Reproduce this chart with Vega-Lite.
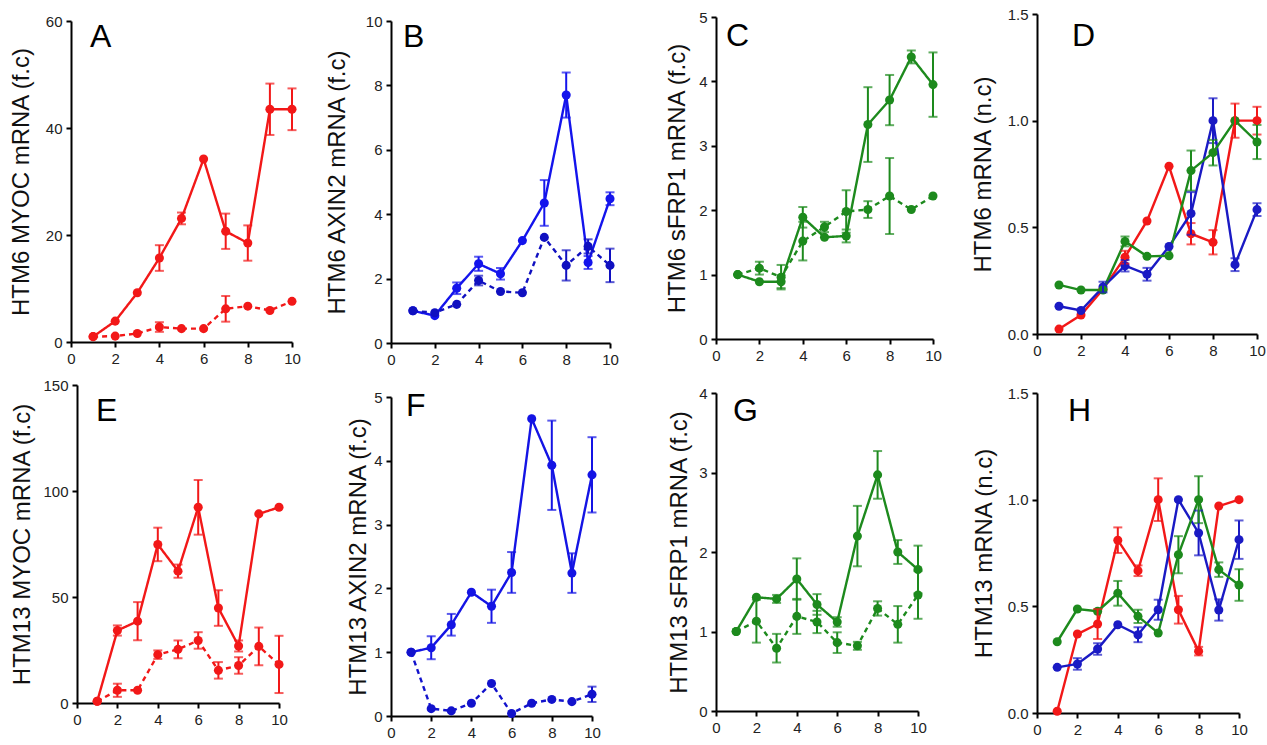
{
"$schema": "https://vega.github.io/schema/vega-lite/v6.json",
"padding": {"left": 9, "top": 7, "right": 0, "bottom": 0},
"background": "white",
"datasets": {"d": [
{"p":"A","s":"s1","x":1,"y":1.0},{"p":"A","s":"s1","x":2,"y":3.9},{"p":"A","s":"s1","x":3,"y":9.2},{"p":"A","s":"s1","x":4,"y":15.7,"e":2.4},{"p":"A","s":"s1","x":5,"y":23.1,"e":1.1},{"p":"A","s":"s1","x":6,"y":34.2},{"p":"A","s":"s1","x":7,"y":20.7,"e":3.3},{"p":"A","s":"s1","x":8,"y":18.5,"e":3.3},{"p":"A","s":"s1","x":9,"y":43.5,"e":4.8},{"p":"A","s":"s1","x":10,"y":43.5,"e":3.9},
{"p":"A","s":"s2","x":1,"y":1.0},{"p":"A","s":"s2","x":2,"y":1.1},{"p":"A","s":"s2","x":3,"y":1.6},{"p":"A","s":"s2","x":4,"y":2.8,"e":0.9},{"p":"A","s":"s2","x":5,"y":2.5},{"p":"A","s":"s2","x":6,"y":2.5},{"p":"A","s":"s2","x":7,"y":6.2,"e":2.4},{"p":"A","s":"s2","x":8,"y":6.7},{"p":"A","s":"s2","x":9,"y":5.9},{"p":"A","s":"s2","x":10,"y":7.6},
{"p":"B","s":"s1","x":1,"y":1.0},{"p":"B","s":"s1","x":2,"y":0.85},{"p":"B","s":"s1","x":3,"y":1.7,"e":0.18},{"p":"B","s":"s1","x":4,"y":2.46,"e":0.22},{"p":"B","s":"s1","x":5,"y":2.15,"e":0.18},{"p":"B","s":"s1","x":6,"y":3.18},{"p":"B","s":"s1","x":7,"y":4.35,"e":0.71},{"p":"B","s":"s1","x":8,"y":7.7,"e":0.7},{"p":"B","s":"s1","x":9,"y":2.5,"e":0.2},{"p":"B","s":"s1","x":10,"y":4.48,"e":0.2},
{"p":"B","s":"s2","x":1,"y":1.0},{"p":"B","s":"s2","x":2,"y":0.94},{"p":"B","s":"s2","x":3,"y":1.2},{"p":"B","s":"s2","x":4,"y":1.94,"e":0.15},{"p":"B","s":"s2","x":5,"y":1.6},{"p":"B","s":"s2","x":6,"y":1.56},{"p":"B","s":"s2","x":7,"y":3.28},{"p":"B","s":"s2","x":8,"y":2.41,"e":0.47},{"p":"B","s":"s2","x":9,"y":3.0,"e":0.22},{"p":"B","s":"s2","x":10,"y":2.41,"e":0.52},
{"p":"C","s":"s1","x":1,"y":1.0},{"p":"C","s":"s1","x":2,"y":0.89},{"p":"C","s":"s1","x":3,"y":0.89,"e":0.1},{"p":"C","s":"s1","x":4,"y":1.89,"e":0.16},{"p":"C","s":"s1","x":5,"y":1.58},{"p":"C","s":"s1","x":6,"y":1.6,"e":0.1},{"p":"C","s":"s1","x":7,"y":3.33,"e":0.58},{"p":"C","s":"s1","x":8,"y":3.71,"e":0.39},{"p":"C","s":"s1","x":9,"y":4.38,"e":0.1},{"p":"C","s":"s1","x":10,"y":3.95,"e":0.5},
{"p":"C","s":"s2","x":1,"y":1.0},{"p":"C","s":"s2","x":2,"y":1.1,"e":0.1},{"p":"C","s":"s2","x":3,"y":0.96,"e":0.19},{"p":"C","s":"s2","x":4,"y":1.52,"e":0.3},{"p":"C","s":"s2","x":5,"y":1.74,"e":0.08},{"p":"C","s":"s2","x":6,"y":1.98,"e":0.33},{"p":"C","s":"s2","x":7,"y":2.01,"e":0.13},{"p":"C","s":"s2","x":8,"y":2.22,"e":0.59},{"p":"C","s":"s2","x":9,"y":2.01},{"p":"C","s":"s2","x":10,"y":2.22},
{"p":"D","s":"MYOC","x":1,"y":0.023},{"p":"D","s":"MYOC","x":2,"y":0.089},{"p":"D","s":"MYOC","x":3,"y":0.21},{"p":"D","s":"MYOC","x":4,"y":0.36,"e":0.03},{"p":"D","s":"MYOC","x":5,"y":0.53},{"p":"D","s":"MYOC","x":6,"y":0.786},{"p":"D","s":"MYOC","x":7,"y":0.47,"e":0.05},{"p":"D","s":"MYOC","x":8,"y":0.43,"e":0.057},{"p":"D","s":"MYOC","x":9,"y":1.0,"e":0.08},{"p":"D","s":"MYOC","x":10,"y":1.0,"e":0.065},
{"p":"D","s":"AXIN2","x":1,"y":0.13},{"p":"D","s":"AXIN2","x":2,"y":0.11},{"p":"D","s":"AXIN2","x":3,"y":0.22,"e":0.025},{"p":"D","s":"AXIN2","x":4,"y":0.32,"e":0.027},{"p":"D","s":"AXIN2","x":5,"y":0.28,"e":0.03},{"p":"D","s":"AXIN2","x":6,"y":0.41},{"p":"D","s":"AXIN2","x":7,"y":0.565,"e":0.1},{"p":"D","s":"AXIN2","x":8,"y":1.0,"e":0.105},{"p":"D","s":"AXIN2","x":9,"y":0.325,"e":0.03},{"p":"D","s":"AXIN2","x":10,"y":0.583,"e":0.03},
{"p":"D","s":"sFRP1","x":1,"y":0.23},{"p":"D","s":"sFRP1","x":2,"y":0.206},{"p":"D","s":"sFRP1","x":3,"y":0.206},{"p":"D","s":"sFRP1","x":4,"y":0.434,"e":0.023},{"p":"D","s":"sFRP1","x":5,"y":0.364},{"p":"D","s":"sFRP1","x":6,"y":0.367},{"p":"D","s":"sFRP1","x":7,"y":0.766,"e":0.094},{"p":"D","s":"sFRP1","x":8,"y":0.85,"e":0.06},{"p":"D","s":"sFRP1","x":9,"y":1.0},{"p":"D","s":"sFRP1","x":10,"y":0.9,"e":0.08},
{"p":"E","s":"s1","x":1,"y":0.8},{"p":"E","s":"s1","x":2,"y":34.2,"e":2.4},{"p":"E","s":"s1","x":3,"y":38.6,"e":9},{"p":"E","s":"s1","x":4,"y":74.8,"e":7.9},{"p":"E","s":"s1","x":5,"y":62.2,"e":3.1},{"p":"E","s":"s1","x":6,"y":92.3,"e":12.9},{"p":"E","s":"s1","x":7,"y":44.8,"e":8.4},{"p":"E","s":"s1","x":8,"y":26.9,"e":2.6},{"p":"E","s":"s1","x":9,"y":89.2},{"p":"E","s":"s1","x":10,"y":92.3},
{"p":"E","s":"s2","x":1,"y":0.8},{"p":"E","s":"s2","x":2,"y":6.0,"e":3.1},{"p":"E","s":"s2","x":3,"y":6.0},{"p":"E","s":"s2","x":4,"y":22.8,"e":2},{"p":"E","s":"s2","x":5,"y":25.3,"e":4.2},{"p":"E","s":"s2","x":6,"y":29.5,"e":3.9},{"p":"E","s":"s2","x":7,"y":15.4,"e":3.9},{"p":"E","s":"s2","x":8,"y":17.7,"e":3.9},{"p":"E","s":"s2","x":9,"y":26.7,"e":8.9},{"p":"E","s":"s2","x":10,"y":18.2,"e":13.5},
{"p":"F","s":"s1","x":1,"y":1.0},{"p":"F","s":"s1","x":2,"y":1.07,"e":0.18},{"p":"F","s":"s1","x":3,"y":1.43,"e":0.17},{"p":"F","s":"s1","x":4,"y":1.94},{"p":"F","s":"s1","x":5,"y":1.72,"e":0.26},{"p":"F","s":"s1","x":6,"y":2.25,"e":0.32},{"p":"F","s":"s1","x":7,"y":4.66},{"p":"F","s":"s1","x":8,"y":3.93,"e":0.7},{"p":"F","s":"s1","x":9,"y":2.24,"e":0.31},{"p":"F","s":"s1","x":10,"y":3.78,"e":0.59},
{"p":"F","s":"s2","x":1,"y":1.0},{"p":"F","s":"s2","x":2,"y":0.115},{"p":"F","s":"s2","x":3,"y":0.08},{"p":"F","s":"s2","x":4,"y":0.2},{"p":"F","s":"s2","x":5,"y":0.51},{"p":"F","s":"s2","x":6,"y":0.04},{"p":"F","s":"s2","x":7,"y":0.2},{"p":"F","s":"s2","x":8,"y":0.26},{"p":"F","s":"s2","x":9,"y":0.225},{"p":"F","s":"s2","x":10,"y":0.34,"e":0.12},
{"p":"G","s":"s1","x":1,"y":1.0},{"p":"G","s":"s1","x":2,"y":1.43},{"p":"G","s":"s1","x":3,"y":1.41,"e":0.05},{"p":"G","s":"s1","x":4,"y":1.66,"e":0.26},{"p":"G","s":"s1","x":5,"y":1.34,"e":0.13},{"p":"G","s":"s1","x":6,"y":1.12,"e":0.06},{"p":"G","s":"s1","x":7,"y":2.2,"e":0.38},{"p":"G","s":"s1","x":8,"y":2.97,"e":0.3},{"p":"G","s":"s1","x":9,"y":2.0,"e":0.15},{"p":"G","s":"s1","x":10,"y":1.78,"e":0.3},
{"p":"G","s":"s2","x":1,"y":1.0},{"p":"G","s":"s2","x":2,"y":1.13,"e":0.27},{"p":"G","s":"s2","x":3,"y":0.79,"e":0.18},{"p":"G","s":"s2","x":4,"y":1.19,"e":0.22},{"p":"G","s":"s2","x":5,"y":1.12,"e":0.14},{"p":"G","s":"s2","x":6,"y":0.86,"e":0.13},{"p":"G","s":"s2","x":7,"y":0.82,"e":0.05},{"p":"G","s":"s2","x":8,"y":1.29,"e":0.09},{"p":"G","s":"s2","x":9,"y":1.09,"e":0.23},{"p":"G","s":"s2","x":10,"y":1.46,"e":0.3},
{"p":"H","s":"MYOC","x":1,"y":0.008},{"p":"H","s":"MYOC","x":2,"y":0.37},{"p":"H","s":"MYOC","x":3,"y":0.417,"e":0.07},{"p":"H","s":"MYOC","x":4,"y":0.81,"e":0.06},{"p":"H","s":"MYOC","x":5,"y":0.667,"e":0.025},{"p":"H","s":"MYOC","x":6,"y":1.0,"e":0.1},{"p":"H","s":"MYOC","x":7,"y":0.484,"e":0.065},{"p":"H","s":"MYOC","x":8,"y":0.29,"e":0.02},{"p":"H","s":"MYOC","x":9,"y":0.97},{"p":"H","s":"MYOC","x":10,"y":1.0},
{"p":"H","s":"AXIN2","x":1,"y":0.214},{"p":"H","s":"AXIN2","x":2,"y":0.23,"e":0.027},{"p":"H","s":"AXIN2","x":3,"y":0.3,"e":0.027},{"p":"H","s":"AXIN2","x":4,"y":0.414},{"p":"H","s":"AXIN2","x":5,"y":0.367,"e":0.035},{"p":"H","s":"AXIN2","x":6,"y":0.484,"e":0.047},{"p":"H","s":"AXIN2","x":7,"y":1.0},{"p":"H","s":"AXIN2","x":8,"y":0.844,"e":0.105},{"p":"H","s":"AXIN2","x":9,"y":0.483,"e":0.05},{"p":"H","s":"AXIN2","x":10,"y":0.8125,"e":0.09},
{"p":"H","s":"sFRP1","x":1,"y":0.334},{"p":"H","s":"sFRP1","x":2,"y":0.4875},{"p":"H","s":"sFRP1","x":3,"y":0.477},{"p":"H","s":"sFRP1","x":4,"y":0.561,"e":0.058},{"p":"H","s":"sFRP1","x":5,"y":0.453,"e":0.031},{"p":"H","s":"sFRP1","x":6,"y":0.375},{"p":"H","s":"sFRP1","x":7,"y":0.742,"e":0.087},{"p":"H","s":"sFRP1","x":8,"y":1.0,"e":0.11},{"p":"H","s":"sFRP1","x":9,"y":0.672,"e":0.034},{"p":"H","s":"sFRP1","x":10,"y":0.6,"e":0.074}
]},
"columns": 4,
"align": "none",
"bounds": "flush",
"spacing": {"row": 41, "column": 0},
"resolve": {"scale": {"color": "independent", "strokeDash": "independent", "x": "independent", "y": "independent"}},
"concat": [
 {"width": 320, "height": 330, "data": {"name": "d"}, "transform": [{"filter": "datum.p == 'A'"}],
  "encoding": {
   "x": {"field": "x", "type": "quantitative", "scale": {"domain": [0, 10], "range": [0, 221], "nice": false}, "axis": {"values": [0,2,4,6,8,10], "title": null, "offset": -1}},
   "y": {"field": "y", "type": "quantitative", "scale": {"domain": [0, 60], "range": [329, 8], "nice": false}, "axis": {"values": [0,20,40,60], "title": "HTM6 MYOC mRNA (f.c)", "titleX": -50, "titleBaseline": "middle"}},
   "color": {"field": "s", "type": "nominal", "scale": {"domain": ["s1","s2"], "range": ["#f21818","#f21818"]}, "legend": null}},
  "layer": [
   {"mark": {"type": "line", "strokeWidth": 2.4}, "encoding": {"strokeDash": {"field": "s", "type": "nominal", "scale": {"domain": ["s1","s2"], "range": [[1,0],[5,4]]}, "legend": null}}},
   {"mark": {"type": "circle", "size": 82, "opacity": 1}},
   {"transform": [{"filter": "datum.e > 0"}], "mark": {"type": "errorbar", "thickness": 2, "ticks": {"size": 9}}, "encoding": {"yError": {"field": "e"}}},
   {"transform": [{"filter": "datum.x == 1 && datum.s == 's1'"}], "mark": {"type": "text", "text": "A", "font": "Liberation Sans", "fontSize": 32, "align": "left", "baseline": "alphabetic"}, "encoding": {"x": {"datum": 0.86}, "y": {"datum": 55.1}, "color": {"value": "#000"}}}
  ]},
 {"width": 321, "height": 330, "data": {"name": "d"}, "transform": [{"filter": "datum.p == 'B'"}],
  "encoding": {
   "x": {"field": "x", "type": "quantitative", "scale": {"domain": [0, 10], "range": [0, 219], "nice": false}, "axis": {"values": [0,2,4,6,8,10], "title": null, "offset": 0}},
   "y": {"field": "y", "type": "quantitative", "scale": {"domain": [0, 10], "range": [330, 8], "nice": false}, "axis": {"values": [0,2,4,6,8,10], "title": "HTM6 AXIN2 mRNA (f.c)", "titleX": -54, "titleBaseline": "middle"}},
   "color": {"field": "s", "type": "nominal", "scale": {"domain": ["s1","s2"], "range": ["#1414ec","#1010c0"]}, "legend": null}},
  "layer": [
   {"mark": {"type": "line", "strokeWidth": 2.4}, "encoding": {"strokeDash": {"field": "s", "type": "nominal", "scale": {"domain": ["s1","s2"], "range": [[1,0],[5,4]]}, "legend": null}}},
   {"mark": {"type": "circle", "size": 82, "opacity": 1}},
   {"transform": [{"filter": "datum.e > 0"}], "mark": {"type": "errorbar", "thickness": 2, "ticks": {"size": 9}}, "encoding": {"yError": {"field": "e"}}},
   {"transform": [{"filter": "datum.x == 1 && datum.s == 's1'"}], "mark": {"type": "text", "text": "B", "font": "Liberation Sans", "fontSize": 32, "align": "left", "baseline": "alphabetic"}, "encoding": {"x": {"datum": 0.55}, "y": {"datum": 9.19}, "color": {"value": "#000"}}}
  ]},
 {"width": 320, "height": 330, "data": {"name": "d"}, "transform": [{"filter": "datum.p == 'C'"}],
  "encoding": {
   "x": {"field": "x", "type": "quantitative", "scale": {"domain": [0, 10], "range": [0, 217], "nice": false}, "axis": {"values": [0,2,4,6,8,10], "title": null, "offset": -4}},
   "y": {"field": "y", "type": "quantitative", "scale": {"domain": [0, 5], "range": [326, 4], "nice": false}, "axis": {"values": [0,1,2,3,4,5], "title": "HTM6 sFRP1 mRNA (f.c)", "titleX": -39, "titleBaseline": "middle"}},
   "color": {"field": "s", "type": "nominal", "scale": {"domain": ["s1","s2"], "range": ["#1d8a1d","#1d8a1d"]}, "legend": null}},
  "layer": [
   {"mark": {"type": "line", "strokeWidth": 2.4}, "encoding": {"strokeDash": {"field": "s", "type": "nominal", "scale": {"domain": ["s1","s2"], "range": [[1,0],[5,4]]}, "legend": null}}},
   {"mark": {"type": "circle", "size": 82, "opacity": 1}},
   {"transform": [{"filter": "datum.e > 0"}], "mark": {"type": "errorbar", "thickness": 2, "ticks": {"size": 9}}, "encoding": {"yError": {"field": "e"}}},
   {"transform": [{"filter": "datum.x == 1 && datum.s == 's1'"}], "mark": {"type": "text", "text": "C", "font": "Liberation Sans", "fontSize": 32, "align": "left", "baseline": "alphabetic"}, "encoding": {"x": {"datum": 0.46}, "y": {"datum": 4.55}, "color": {"value": "#000"}}}
  ]},
 {"width": 220, "height": 330, "data": {"name": "d"}, "transform": [{"filter": "datum.p == 'D'"}],
  "encoding": {
   "x": {"field": "x", "type": "quantitative", "scale": {"domain": [0, 10], "range": [0, 220], "nice": false}, "axis": {"values": [0,2,4,6,8,10], "title": null, "offset": -9}},
   "y": {"field": "y", "type": "quantitative", "scale": {"domain": [0, 1.5], "range": [321, 1], "nice": false}, "axis": {"values": [0,0.5,1,1.5], "format": ".1f", "title": "HTM6 mRNA (n.c)", "titleX": -54, "titleBaseline": "middle"}},
   "color": {"field": "s", "type": "nominal", "scale": {"domain": ["MYOC","AXIN2","sFRP1"], "range": ["#f21818","#1a1ac4","#1d8a1d"]}, "legend": null}},
  "layer": [
   {"mark": {"type": "line", "strokeWidth": 2.4}},
   {"mark": {"type": "circle", "size": 82, "opacity": 1}},
   {"transform": [{"filter": "datum.e > 0"}], "mark": {"type": "errorbar", "thickness": 2, "ticks": {"size": 9}}, "encoding": {"yError": {"field": "e"}}},
   {"transform": [{"filter": "datum.x == 1 && datum.s == 'MYOC'"}], "mark": {"type": "text", "text": "D", "font": "Liberation Sans", "fontSize": 32, "align": "left", "baseline": "alphabetic"}, "encoding": {"x": {"datum": 1.59}, "y": {"datum": 1.35}, "color": {"value": "#000"}}}
  ]},
 {"width": 314, "height": 332, "data": {"name": "d"}, "transform": [{"filter": "datum.p == 'E'"}],
  "encoding": {
   "x": {"field": "x", "type": "quantitative", "scale": {"domain": [0, 10], "range": [6, 208], "nice": false}, "axis": {"values": [0,2,4,6,8,10], "title": null, "offset": -13}},
   "y": {"field": "y", "type": "quantitative", "scale": {"domain": [0, 150], "range": [319, 1], "nice": false}, "axis": {"values": [0,50,100,150], "title": "HTM13 MYOC mRNA (f.c)", "offset": -6, "titleX": -55, "titleBaseline": "middle"}},
   "color": {"field": "s", "type": "nominal", "scale": {"domain": ["s1","s2"], "range": ["#f21818","#f21818"]}, "legend": null}},
  "layer": [
   {"mark": {"type": "line", "strokeWidth": 2.4}, "encoding": {"strokeDash": {"field": "s", "type": "nominal", "scale": {"domain": ["s1","s2"], "range": [[1,0],[5,4]]}, "legend": null}}},
   {"mark": {"type": "circle", "size": 82, "opacity": 1}},
   {"transform": [{"filter": "datum.e > 0"}], "mark": {"type": "errorbar", "thickness": 2, "ticks": {"size": 9}}, "encoding": {"yError": {"field": "e"}}},
   {"transform": [{"filter": "datum.x == 1 && datum.s == 's1'"}], "mark": {"type": "text", "text": "E", "font": "Liberation Sans", "fontSize": 32, "align": "left", "baseline": "alphabetic"}, "encoding": {"x": {"datum": 0.94}, "y": {"datum": 133}, "color": {"value": "#000"}}}
  ]},
 {"width": 325, "height": 332, "data": {"name": "d"}, "transform": [{"filter": "datum.p == 'F'"}],
  "encoding": {
   "x": {"field": "x", "type": "quantitative", "scale": {"domain": [0, 10], "range": [0, 201], "nice": false}, "axis": {"values": [0,2,4,6,8,10], "title": null, "offset": 0}},
   "y": {"field": "y", "type": "quantitative", "scale": {"domain": [0, 5], "range": [332, 13], "nice": false}, "axis": {"values": [0,1,2,3,4,5], "title": "HTM13 AXIN2 mRNA (f.c)", "titleX": -33, "titleBaseline": "middle"}},
   "color": {"field": "s", "type": "nominal", "scale": {"domain": ["s1","s2"], "range": ["#1414e4","#1212cc"]}, "legend": null}},
  "layer": [
   {"mark": {"type": "line", "strokeWidth": 2.4}, "encoding": {"strokeDash": {"field": "s", "type": "nominal", "scale": {"domain": ["s1","s2"], "range": [[1,0],[5,4]]}, "legend": null}}},
   {"mark": {"type": "circle", "size": 82, "opacity": 1}},
   {"transform": [{"filter": "datum.e > 0"}], "mark": {"type": "errorbar", "thickness": 2, "ticks": {"size": 9}}, "encoding": {"yError": {"field": "e"}}},
   {"transform": [{"filter": "datum.x == 1 && datum.s == 's1'"}], "mark": {"type": "text", "text": "F", "font": "Liberation Sans", "fontSize": 32, "align": "left", "baseline": "alphabetic"}, "encoding": {"x": {"datum": 0.75}, "y": {"datum": 4.7}, "color": {"value": "#000"}}}
  ]},
 {"width": 321, "height": 332, "data": {"name": "d"}, "transform": [{"filter": "datum.p == 'G'"}],
  "encoding": {
   "x": {"field": "x", "type": "quantitative", "scale": {"domain": [0, 10], "range": [0, 202], "nice": false}, "axis": {"values": [0,2,4,6,8,10], "title": null, "offset": -5}},
   "y": {"field": "y", "type": "quantitative", "scale": {"domain": [0, 4], "range": [327, 9], "nice": false}, "axis": {"values": [0,1,2,3,4], "title": "HTM13 sFRP1 mRNA (f.c)", "titleX": -37, "titleBaseline": "middle"}},
   "color": {"field": "s", "type": "nominal", "scale": {"domain": ["s1","s2"], "range": ["#1d8a1d","#1d8a1d"]}, "legend": null}},
  "layer": [
   {"mark": {"type": "line", "strokeWidth": 2.4}, "encoding": {"strokeDash": {"field": "s", "type": "nominal", "scale": {"domain": ["s1","s2"], "range": [[1,0],[5,4]]}, "legend": null}}},
   {"mark": {"type": "circle", "size": 82, "opacity": 1}},
   {"transform": [{"filter": "datum.e > 0"}], "mark": {"type": "errorbar", "thickness": 2, "ticks": {"size": 9}}, "encoding": {"yError": {"field": "e"}}},
   {"transform": [{"filter": "datum.x == 1 && datum.s == 's1'"}], "mark": {"type": "text", "text": "G", "font": "Liberation Sans", "fontSize": 32, "align": "left", "baseline": "alphabetic"}, "encoding": {"x": {"datum": 0.84}, "y": {"datum": 3.65}, "color": {"value": "#000"}}}
  ]},
 {"width": 202, "height": 332, "data": {"name": "d"}, "transform": [{"filter": "datum.p == 'H'"}],
  "encoding": {
   "x": {"field": "x", "type": "quantitative", "scale": {"domain": [0, 10], "range": [0, 202], "nice": false}, "axis": {"values": [0,2,4,6,8,10], "title": null, "offset": -3}},
   "y": {"field": "y", "type": "quantitative", "scale": {"domain": [0, 1.5], "range": [329, 9], "nice": false}, "axis": {"values": [0,0.5,1,1.5], "format": ".1f", "title": "HTM13 mRNA (n.c)", "titleX": -53, "titleBaseline": "middle"}},
   "color": {"field": "s", "type": "nominal", "scale": {"domain": ["MYOC","AXIN2","sFRP1"], "range": ["#f21818","#1a1ac4","#1d8a1d"]}, "legend": null}},
  "layer": [
   {"mark": {"type": "line", "strokeWidth": 2.4}},
   {"mark": {"type": "circle", "size": 82, "opacity": 1}},
   {"transform": [{"filter": "datum.e > 0"}], "mark": {"type": "errorbar", "thickness": 2, "ticks": {"size": 9}}, "encoding": {"yError": {"field": "e"}}},
   {"transform": [{"filter": "datum.x == 1 && datum.s == 'MYOC'"}], "mark": {"type": "text", "text": "H", "font": "Liberation Sans", "fontSize": 32, "align": "left", "baseline": "alphabetic"}, "encoding": {"x": {"datum": 1.53}, "y": {"datum": 1.37}, "color": {"value": "#000"}}}
  ]}
],
"config": {
 "view": {"stroke": null},
 "axis": {"grid": false, "domainColor": "#000", "domainWidth": 2, "tickColor": "#000", "tickWidth": 2, "tickSize": 5, "labelFont": "Liberation Sans", "labelFontSize": 15, "labelColor": "#222", "labelPadding": 4, "labelFlush": false, "labelOverlap": false, "titleFont": "Liberation Sans", "titleFontSize": 24, "titleFontWeight": "normal", "titleColor": "#111"}
}
}
